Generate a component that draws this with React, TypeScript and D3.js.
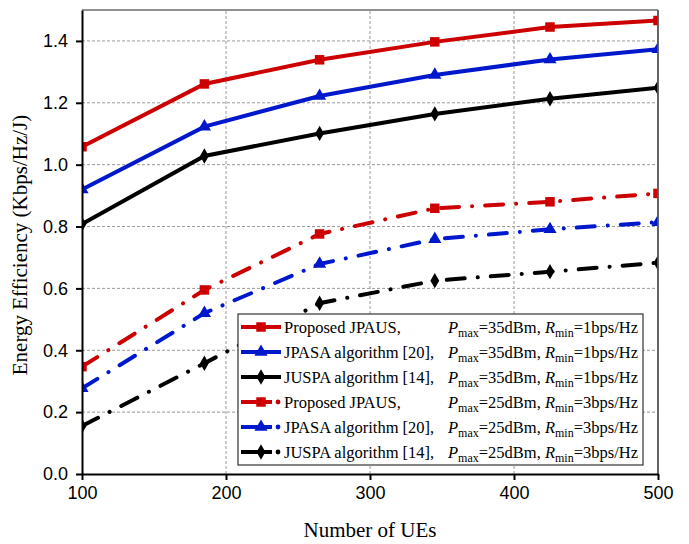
import { useEffect, useRef } from "react";
import * as d3 from "d3";

const users = [100, 185, 265, 345, 425, 500];
const jpausHigh = [1.058, 1.261, 1.339, 1.397, 1.445, 1.466];
const jpasaHigh = [0.92, 1.123, 1.222, 1.29, 1.34, 1.373];
const juspaHigh = [0.808, 1.028, 1.101, 1.164, 1.213, 1.249];
const jpausLow = [0.347, 0.595, 0.776, 0.859, 0.88, 0.907];
const jpasaLow = [0.277, 0.52, 0.679, 0.759, 0.791, 0.814];
const juspaLow = [0.155, 0.358, 0.552, 0.625, 0.654, 0.683];

const xTicks = [100, 200, 300, 400, 500];
const yTicks = [0, 0.2, 0.4, 0.6, 0.8, 1.0, 1.2, 1.4];

const seriesNames = [
  "Proposed JPAUS,",
  "JPASA algorithm [20],",
  "JUSPA algorithm [14],",
  "Proposed JPAUS,",
  "JPASA algorithm [20],",
  "JUSPA algorithm [14],",
];
const pmaxLabels = ["35dBm", "35dBm", "35dBm", "25dBm", "25dBm", "25dBm"];
const rminLabels = ["1bps/Hz", "1bps/Hz", "1bps/Hz", "3bps/Hz", "3bps/Hz", "3bps/Hz"];

const RED = "#cc0000";
const BLUE = "#0018cc";
const BLACK = "#000000";
const DASHDOT = "18 13 0.1 13";

export default function App() {
  const ref = useRef<SVGSVGElement>(null);

  useEffect(() => {
    const width = 689;
    const height = 544;
    const margin = { top: 10, right: 31, bottom: 70, left: 82 };

    const svg = d3.select(ref.current);
    svg.selectAll("*").remove();

    const x = d3.scaleLinear()
      .domain([100, 500])
      .range([margin.left, width - margin.right]);

    const y = d3.scaleLinear()
      .domain([0, 1.5])
      .range([height - margin.bottom, margin.top]);

    const series = [
      { values: jpausHigh, color: RED, dash: null, symbol: d3.symbolSquare, size: 90 },
      { values: jpasaHigh, color: BLUE, dash: null, symbol: d3.symbolTriangle, size: 75 },
      { values: juspaHigh, color: BLACK, dash: null, symbol: d3.symbolDiamond, size: 68 },
      { values: jpausLow, color: RED, dash: DASHDOT, symbol: d3.symbolSquare, size: 90 },
      { values: jpasaLow, color: BLUE, dash: DASHDOT, symbol: d3.symbolTriangle, size: 75 },
      { values: juspaLow, color: BLACK, dash: DASHDOT, symbol: d3.symbolDiamond, size: 68 },
    ];

    // Grid
    const grid = svg.append("g")
      .attr("stroke", "#9a9a9a")
      .attr("stroke-width", 1)
      .attr("stroke-dasharray", "3 2");
    grid.selectAll("line.gx")
      .data(xTicks.slice(1, -1))
      .join("line")
      .attr("x1", d => x(d)).attr("x2", d => x(d))
      .attr("y1", y(0)).attr("y2", y(1.5));
    grid.selectAll("line.gy")
      .data(yTicks.slice(1))
      .join("line")
      .attr("x1", x(100)).attr("x2", x(500))
      .attr("y1", d => y(d)).attr("y2", d => y(d));

    // Clip
    svg.append("clipPath")
      .attr("id", "plot-clip")
      .append("rect")
      .attr("x", x(100)).attr("y", y(1.5))
      .attr("width", x(500) - x(100))
      .attr("height", y(0) - y(1.5));

    const plot = svg.append("g").attr("clip-path", "url(#plot-clip)");

    const line = d3.line<number>()
      .x((_, i) => x(users[i]))
      .y(d => y(d));

    series.forEach(s => {
      plot.append("path")
        .datum(s.values)
        .attr("fill", "none")
        .attr("stroke", s.color)
        .attr("stroke-width", 4)
        .attr("stroke-linecap", s.dash ? "round" : "butt")
        .attr("stroke-dasharray", s.dash)
        .attr("d", line);
      plot.selectAll(null)
        .data(s.values)
        .join("path")
        .attr("transform", (d, i) => `translate(${x(users[i])},${y(d)})`)
        .attr("d", d3.symbol(s.symbol, s.size)())
        .attr("fill", s.color);
    });

    // Frame
    svg.append("line")
      .attr("x1", x(100)).attr("x2", x(500))
      .attr("y1", y(1.5)).attr("y2", y(1.5))
      .attr("stroke", "#222").attr("stroke-width", 1.2);
    svg.append("line")
      .attr("x1", x(500)).attr("x2", x(500))
      .attr("y1", y(1.5)).attr("y2", y(0))
      .attr("stroke", "#555").attr("stroke-width", 1.8);

    // X Axis
    const xAxis = svg.append("g")
      .attr("transform", `translate(0,${y(0)})`)
      .call(d3.axisBottom(x).tickValues(xTicks).tickFormat(d3.format("d")).tickSize(6).tickPadding(6).tickSizeOuter(0));
    xAxis.select(".domain").attr("stroke-width", 2);
    xAxis.selectAll(".tick line").attr("stroke-width", 2);
    xAxis.selectAll("text")
      .attr("font-family", "'Liberation Sans', Arial, sans-serif")
      .attr("font-size", 18)
      .attr("fill", "#000");

    // Y Axis
    const yAxis = svg.append("g")
      .attr("transform", `translate(${x(100)},0)`)
      .call(d3.axisLeft(y).tickValues(yTicks).tickFormat(d3.format(".1f")).tickSize(6).tickPadding(8).tickSizeOuter(0));
    yAxis.select(".domain").attr("stroke-width", 2);
    yAxis.selectAll(".tick line").attr("stroke-width", 2);
    yAxis.selectAll("text")
      .attr("font-family", "'Liberation Sans', Arial, sans-serif")
      .attr("font-size", 18)
      .attr("fill", "#000");

    // Axis titles
    svg.append("text")
      .attr("x", (x(100) + x(500)) / 2)
      .attr("y", 537)
      .attr("text-anchor", "middle")
      .attr("font-family", "'Liberation Serif', 'Times New Roman', serif")
      .attr("font-size", 21)
      .text("Number of UEs");
    svg.append("text")
      .attr("transform", "translate(27,245) rotate(-90)")
      .attr("text-anchor", "middle")
      .attr("font-family", "'Liberation Serif', 'Times New Roman', serif")
      .attr("font-size", 21)
      .text("Energy Efficiency (Kbps/Hz/J)");

    // Legend
    const legend = svg.append("g").attr("transform", "translate(238,314)");
    legend.append("rect")
      .attr("width", 405).attr("height", 151)
      .attr("fill", "#fff")
      .attr("stroke", "#333").attr("stroke-width", 1.2);

    series.forEach((s, i) => {
      const row = legend.append("g").attr("transform", `translate(0,${13 + i * 25})`);
      row.append("line")
        .attr("x1", 3).attr("x2", s.dash ? 34 : 43)
        .attr("stroke", s.color).attr("stroke-width", 4);
      if (s.dash) {
        row.append("circle").attr("cx", 40).attr("r", 2.4).attr("fill", s.color);
      }
      row.append("path")
        .attr("transform", "translate(23,0)")
        .attr("d", d3.symbol(s.symbol, s.size)())
        .attr("fill", s.color);

      const font = "'Liberation Serif', 'Times New Roman', serif";
      row.append("text")
        .attr("x", 46).attr("y", 6)
        .attr("font-family", font).attr("font-size", 16.5)
        .text(seriesNames[i]);
      const t = row.append("text")
        .attr("x", 210).attr("y", 6)
        .attr("font-family", font).attr("font-size", 16.5);
      t.append("tspan").attr("font-style", "italic").text("P");
      t.append("tspan").attr("font-size", 12).attr("dy", 4).text("max");
      t.append("tspan").attr("dy", -4).text(`=${pmaxLabels[i]}, `);
      t.append("tspan").attr("font-style", "italic").text("R");
      t.append("tspan").attr("font-size", 12).attr("dy", 4).text("min");
      t.append("tspan").attr("dy", -4).text(`=${rminLabels[i]}`);
    });
  }, []);

  return (
    <div style={{ position: "fixed", left: 0, top: 0, background: "#fff" }}>
      <svg ref={ref} width={689} height={544} style={{ display: "block" }} />
    </div>
  );
}
